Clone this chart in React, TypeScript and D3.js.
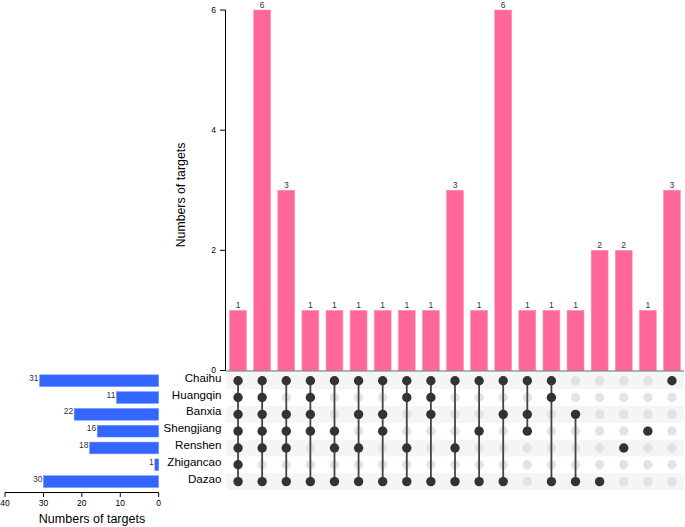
import React from "react";
import * as d3 from "d3";

const sets = ["Chaihu", "Huangqin", "Banxia", "Shengjiang", "Renshen", "Zhigancao", "Dazao"];
const setSizes = [31, 11, 22, 16, 18, 1, 30];
const intersections: string[][] = [
  ["Chaihu", "Huangqin", "Banxia", "Shengjiang", "Renshen", "Zhigancao", "Dazao"],
  ["Chaihu", "Huangqin", "Banxia", "Shengjiang", "Renshen", "Dazao"],
  ["Chaihu", "Banxia", "Shengjiang", "Renshen", "Dazao"],
  ["Chaihu", "Huangqin", "Banxia", "Shengjiang", "Dazao"],
  ["Chaihu", "Shengjiang", "Renshen", "Dazao"],
  ["Chaihu", "Banxia", "Renshen", "Dazao"],
  ["Chaihu", "Banxia", "Shengjiang", "Dazao"],
  ["Chaihu", "Huangqin", "Renshen", "Dazao"],
  ["Chaihu", "Huangqin", "Banxia", "Dazao"],
  ["Chaihu", "Renshen", "Dazao"],
  ["Chaihu", "Shengjiang", "Dazao"],
  ["Chaihu", "Banxia", "Dazao"],
  ["Chaihu", "Banxia", "Shengjiang"],
  ["Chaihu", "Huangqin", "Dazao"],
  ["Banxia", "Dazao"],
  ["Dazao"],
  ["Renshen"],
  ["Shengjiang"],
  ["Chaihu"],
];
const intersectionSizes = [1, 6, 3, 1, 1, 1, 1, 1, 1, 3, 1, 6, 1, 1, 1, 2, 2, 1, 3];
const yTicks = [0, 2, 4, 6];
const setTicks = [0, 10, 20, 30, 40];

const FONT = "'Liberation Sans', Arial, sans-serif";
const PINK = "#ff6699";
const BLUE = "#3366ff";

export default function App() {
  const idx = intersectionSizes.map((_, i) => String(i));
  const x = d3.scaleBand().domain(idx).range([226, 684]).paddingInner(0.3).paddingOuter(0.15);
  const y = d3.scaleLinear().domain([0, 6]).range([370.5, 10]);
  const row = d3.scaleBand().domain(sets).range([372.3, 490]).padding(0);
  const rowBar = d3.scaleBand().domain(sets).range([372.3, 490]).paddingInner(0.3).paddingOuter(0.15);
  const xl = d3.scaleLinear().domain([0, 40]).range([158.7, 5]);
  const bw = x.bandwidth();
  const rc = (s: string) => (row(s) as number) + row.bandwidth() / 2;

  return (
    <svg width={685} height={527} style={{ position: "absolute", left: 0, top: 0, background: "#fff" }} fontFamily={FONT}>
      {/* stripes */}
      {sets.map((s, i) =>
        i % 2 === 0 ? (
          <rect key={s} x={226} y={row(s)} width={458} height={row.bandwidth()} fill="#f5f5f5" />
        ) : null
      )}
      {/* intersection bars */}
      {intersectionSizes.map((v, i) => (
        <g key={i}>
          <rect x={x(String(i))} y={y(v)} width={bw} height={y(0) - y(v)} fill={PINK} stroke="#ff8fb5" strokeWidth={0.6} />
          <text x={(x(String(i)) as number) + bw / 2} y={y(v) - 2} fontSize={8.5} fill="#333" textAnchor="middle">
            {v}
          </text>
        </g>
      ))}
      {/* y axis */}
      <line x1={225.5} x2={225.5} y1={y(6)} y2={y(0)} stroke="#000" strokeWidth={1} />
      <line x1={225.5} x2={684} y1={y(0) + 0.5} y2={y(0) + 0.5} stroke="#666" strokeWidth={1} />
      {yTicks.map((t) => (
        <g key={t}>
          <line x1={220} x2={225.5} y1={y(t)} y2={y(t)} stroke="#000" />
          <text x={216} y={y(t)} dy="0.35em" fontSize={8.5} textAnchor="end" fill="#000">
            {t}
          </text>
        </g>
      ))}
      <text transform={`translate(184.5,195) rotate(-90)`} fontSize={12.3} textAnchor="middle" fill="#000">
        Numbers of targets
      </text>
      {/* matrix */}
      {intersections.map((members, i) => {
        const cx = (x(String(i)) as number) + bw / 2;
        const ys = members.map(rc);
        const y1 = d3.min(ys) as number;
        const y2 = d3.max(ys) as number;
        return (
          <g key={i}>
            {sets.map((s) =>
              members.includes(s) ? null : <circle key={s} cx={cx} cy={rc(s)} r={4.7} fill="#e3e3e3" />
            )}
            {members.length > 1 && <line x1={cx} x2={cx} y1={y1} y2={y2} stroke="#444" strokeWidth={1.8} />}
            {members.map((s) => (
              <circle key={s} cx={cx} cy={rc(s)} r={4.7} fill="#333" />
            ))}
          </g>
        );
      })}
      {/* set labels */}
      {sets.map((s) => (
        <text key={s} x={221.5} y={rc(s) + 1} fontSize={11.6} textAnchor="end" fill="#000">
          {s}
        </text>
      ))}
      {/* set size bars */}
      {sets.map((s, i) => (
        <g key={s}>
          <rect
            x={xl(setSizes[i])}
            y={rowBar(s)}
            width={xl(0) - xl(setSizes[i])}
            height={rowBar.bandwidth()}
            fill={BLUE}
            stroke="#6f8fff"
            strokeWidth={0.5}
          />
          <text x={xl(setSizes[i]) - 1} y={(rowBar(s) as number) + 3} dy="0.35em" fontSize={8.5} textAnchor="end" fill="#333">
            {setSizes[i]}
          </text>
        </g>
      ))}
      <line x1={xl(40)} x2={xl(0)} y1={492.5} y2={492.5} stroke="#000" />
      {setTicks.map((t) => (
        <g key={t}>
          <line x1={xl(t)} x2={xl(t)} y1={492.5} y2={497} stroke="#000" />
          <text x={xl(t)} y={503} dy="0.35em" fontSize={8.5} textAnchor="middle" fill="#000">
            {t}
          </text>
        </g>
      ))}
      <text x={92} y={523} fontSize={12.5} textAnchor="middle" fill="#000">
        Numbers of targets
      </text>
    </svg>
  );
}
